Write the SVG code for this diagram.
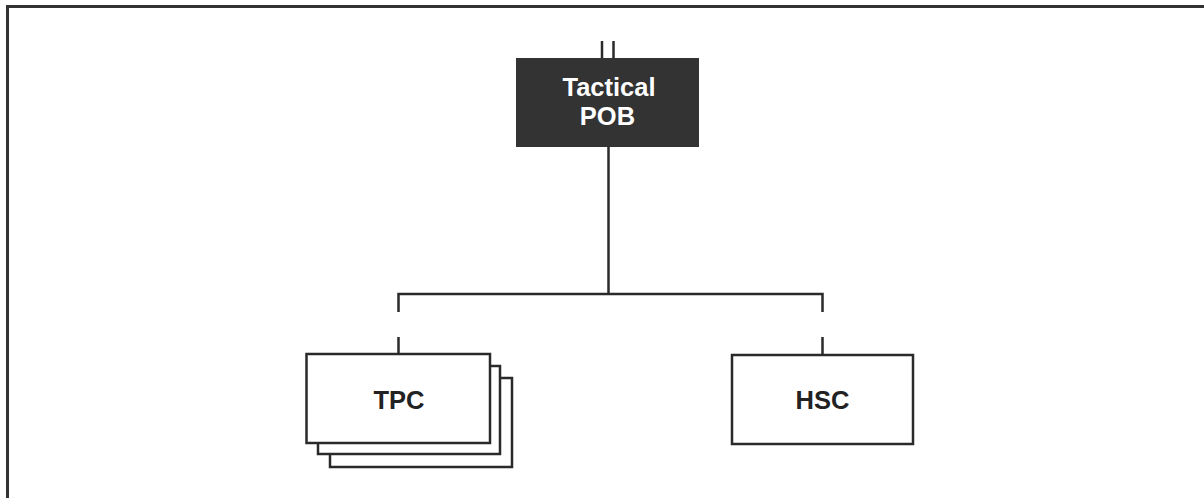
<svg xmlns="http://www.w3.org/2000/svg" width="1204" height="498" viewBox="0 0 1204 498">
<style>
.ln{stroke:#2a2a2a;stroke-width:2.5;fill:none}
.box{fill:#fff;stroke:#2a2a2a;stroke-width:2.5}
.t{font-family:"Liberation Sans",Arial,sans-serif;font-weight:bold;font-size:25.5px;text-anchor:middle;fill:#222}
.w{fill:#fff}
</style>
<rect width="1204" height="498" fill="#fff"/>
<rect x="7.5" y="6.5" width="1220" height="520" fill="none" stroke="#333" stroke-width="3"/>
<g id="connectors">
<line class="ln" x1="602" y1="41" x2="602" y2="58"/>
<line class="ln" x1="613.5" y1="41" x2="613.5" y2="58"/>
<line class="ln" x1="608.5" y1="147" x2="608.5" y2="294"/>
<polyline class="ln" points="398.5,312 398.5,294 822.5,294 822.5,312"/>
<line class="ln" x1="398.5" y1="337" x2="398.5" y2="354"/>
<line class="ln" x1="822.5" y1="337" x2="822.5" y2="355"/>
</g>
<g id="tactical-pob">
<rect x="516" y="58" width="183" height="89" fill="#333"/>
<text class="t w" x="609" y="96">Tactical</text>
<text class="t w" x="607.5" y="125">POB</text>
</g>
<g id="tpc">
<rect class="box" x="330" y="378" width="182" height="89"/>
<rect class="box" x="318" y="366" width="182" height="88"/>
<rect class="box" x="306.5" y="354" width="183.5" height="89"/>
<text class="t" x="399" y="409">TPC</text>
</g>
<g id="hsc">
<rect class="box" x="732" y="355" width="181" height="89"/>
<text class="t" x="822.5" y="409">HSC</text>
</g>
</svg>
